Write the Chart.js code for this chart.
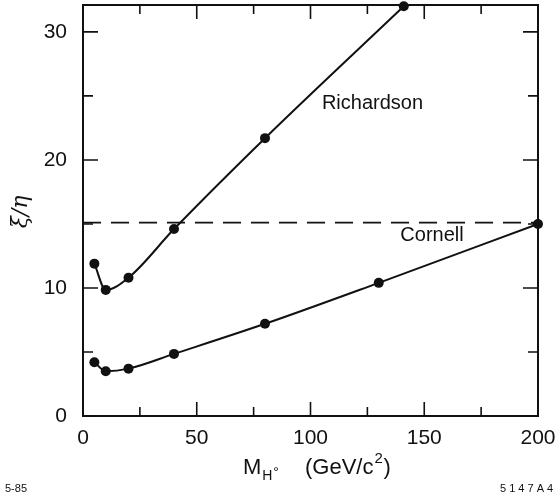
<!DOCTYPE html>
<html>
<head>
<meta charset="utf-8">
<script src="https://cdn.jsdelivr.net/npm/chart.js@4"></script>
<style>
  html, body { margin: 0; padding: 0; background: #fff; }
  #chart { display: block; }
</style>
</head>
<body>
<canvas id="chart" width="560" height="495"></canvas>
<script>
// values
const richardsonX = [5, 10, 20, 40, 80, 141];
const richardsonY = [11.9, 9.85, 10.8, 14.6, 21.7, 32];
const cornellX = [5, 10, 20, 40, 80, 130, 200];
const cornellY = [4.2, 3.5, 3.7, 4.85, 7.2, 10.4, 15.0];
const limitX = [0, 200];
const limitY = [15.1, 15.1];

const xTicks = [0, 50, 100, 150, 200];
const yTicks = [0, 10, 20, 30];

const ink = "#111";

const toPoints = (xs, ys) => xs.map((x, i) => ({ x: x, y: ys[i] }));

const curveLabels = [
  { text: "Richardson", x: 105, y: 24.4 },
  { text: "Cornell", x: 139.5, y: 14.1 }
];

// frame, inward ticks, annotations and axis titles
const framePlugin = {
  id: "frame",
  afterDatasetsDraw(chart) {
    const ctx = chart.ctx;
    const a = chart.chartArea;
    const xs = chart.scales.x;
    const ys = chart.scales.y;

    ctx.save();
    ctx.strokeStyle = ink;
    ctx.lineWidth = 2;
    ctx.strokeRect(a.left, a.top, a.right - a.left, a.bottom - a.top);

    ctx.lineWidth = 1.6;
    ctx.beginPath();
    for (let v = 0; v <= 200; v += 25) {
      const px = xs.getPixelForValue(v);
      const len = v % 50 === 0 ? 14 : 9;
      ctx.moveTo(px, a.bottom); ctx.lineTo(px, a.bottom - len);
      ctx.moveTo(px, a.top); ctx.lineTo(px, a.top + len);
    }
    for (let v = 0; v <= 30; v += 5) {
      const py = ys.getPixelForValue(v);
      const len = v % 10 === 0 ? 15 : 10;
      ctx.moveTo(a.left, py); ctx.lineTo(a.left + len, py);
      ctx.moveTo(a.right, py); ctx.lineTo(a.right - len, py);
    }
    ctx.stroke();

    ctx.fillStyle = ink;
    ctx.font = "20px 'Liberation Sans', Arial, sans-serif";
    ctx.textBaseline = "middle";
    ctx.textAlign = "left";
    curveLabels.forEach(l => {
      ctx.fillText(l.text, xs.getPixelForValue(l.x), ys.getPixelForValue(l.y));
    });

    // y title
    ctx.save();
    ctx.translate(21, 212);
    ctx.rotate(-Math.PI / 2);
    ctx.textAlign = "center";
    ctx.font = "italic 22px 'DejaVu Serif', serif";
    ctx.fillText("ξ/η", 0, 0);
    ctx.restore();

    // x title: M_H°  (GeV/c²)
    ctx.textAlign = "left";
    ctx.textBaseline = "alphabetic";
    ctx.font = "22px 'Liberation Sans', Arial, sans-serif";
    ctx.fillText("M", 243, 474);
    const mw = ctx.measureText("M").width;
    ctx.font = "14px 'Liberation Sans', Arial, sans-serif";
    ctx.fillText("H", 243 + mw + 1, 480);
    ctx.fillText("°", 243 + mw + 12, 477);
    ctx.font = "22px 'Liberation Sans', Arial, sans-serif";
    ctx.fillText("(GeV/c", 305, 474);
    const w = ctx.measureText("(GeV/c").width;
    ctx.font = "15px 'Liberation Sans', Arial, sans-serif";
    ctx.fillText("2", 305 + w + 1, 463);
    ctx.font = "22px 'Liberation Sans', Arial, sans-serif";
    ctx.fillText(")", 305 + w + 10, 474);

    ctx.font = "11px 'Liberation Sans', Arial, sans-serif";
    ctx.fillText("5-85", 5, 492);
    ctx.fillText("5 1 4 7 A 4", 500, 492);
    ctx.restore();
  }
};

const lineStyle = {
  borderColor: ink,
  backgroundColor: ink,
  borderWidth: 2,
  pointRadius: 5,
  pointBorderWidth: 0,
  cubicInterpolationMode: "monotone",
  clip: false
};

new Chart(document.getElementById("chart"), {
  type: "line",
  data: {
    datasets: [
      Object.assign({ label: "Richardson", data: toPoints(richardsonX, richardsonY) }, lineStyle),
      Object.assign({ label: "Cornell", data: toPoints(cornellX, cornellY) }, lineStyle),
      {
        label: "limit",
        data: toPoints(limitX, limitY),
        borderColor: ink,
        borderWidth: 1.8,
        borderDash: [18, 10],
        pointRadius: 0,
        clip: false
      }
    ]
  },
  options: {
    responsive: false,
    animation: false,
    layout: { padding: { top: 4, right: 22, left: 0, bottom: 0 } },
    plugins: { legend: { display: false }, tooltip: { enabled: false } },
    scales: {
      x: {
        type: "linear",
        min: 0,
        max: 200,
        grid: { display: false, drawTicks: false },
        border: { display: false },
        afterBuildTicks: s => { s.ticks = xTicks.map(v => ({ value: v })); },
        afterFit: s => { s.height = 79; s.paddingLeft = 0; s.paddingRight = 0; },
        ticks: { padding: 10, color: ink, font: { family: "'Liberation Sans', Arial, sans-serif", size: 21 }, maxRotation: 0 }
      },
      y: {
        type: "linear",
        min: 0,
        max: 32.1,
        grid: { display: false, drawTicks: false },
        border: { display: false },
        afterBuildTicks: s => { s.ticks = yTicks.map(v => ({ value: v })); },
        afterFit: s => { s.width = 83; s.paddingTop = 0; s.paddingBottom = 0; },
        ticks: { padding: 16, color: ink, font: { family: "'Liberation Sans', Arial, sans-serif", size: 21 } }
      }
    }
  },
  plugins: [framePlugin]
});
</script>
</body>
</html>
